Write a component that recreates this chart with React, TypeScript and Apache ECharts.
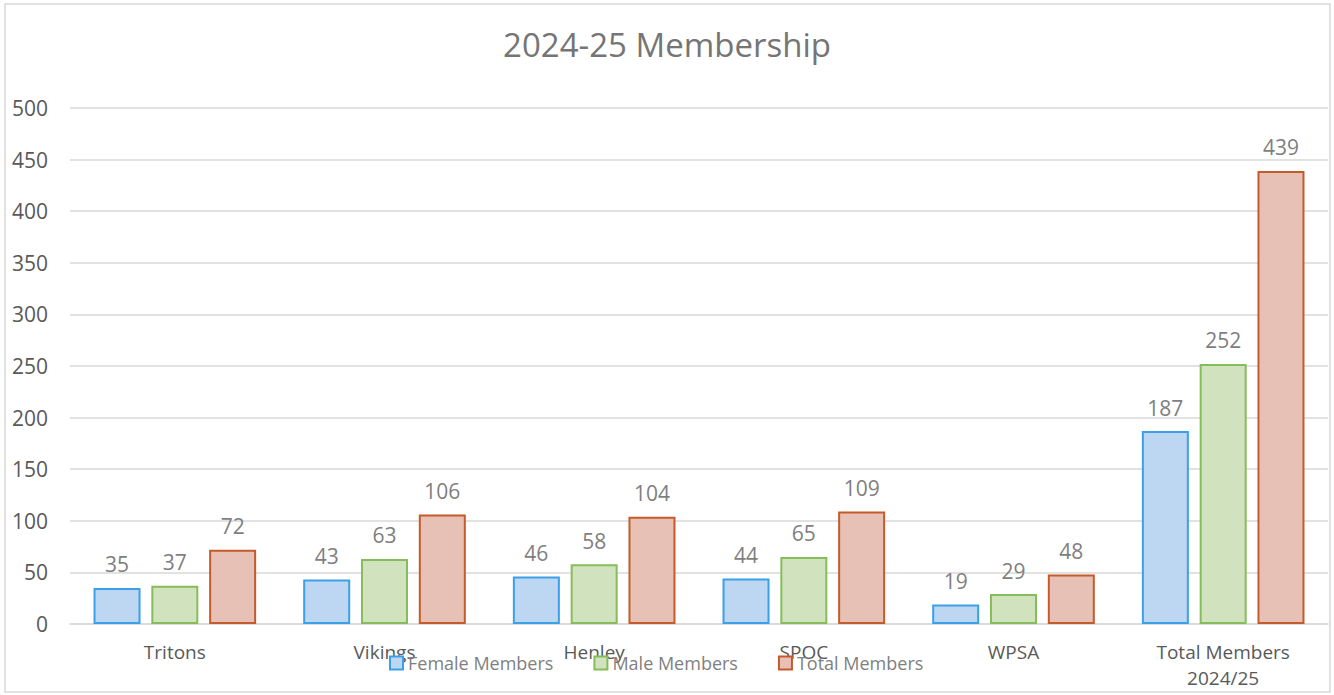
import React, { useEffect, useRef } from "react";
import * as echarts from "echarts";

const categories = ["Tritons", "Vikings", "Henley", "SPOC", "WPSA", "Total Members\n2024/25"];
const femaleMembers = [35, 43, 46, 44, 19, 187];
const maleMembers = [37, 63, 58, 65, 29, 252];
const totalMembers = [72, 106, 104, 109, 48, 439];
const seriesNames = ["Female Members", "Male Members", "Total Members"];

const FONT = "'Open Sans', 'Noto Sans', sans-serif";

export default function App() {
  const ref = useRef<HTMLDivElement>(null);
  useEffect(() => {
    if (!ref.current) return;
    const chart = echarts.init(ref.current, null, { renderer: "svg" });
    const label = {
      show: true,
      position: "top" as const,
      distance: 13,
      color: "#7F7F7F",
      fontSize: 21,
      fontFamily: FONT,
    };
    const mk = (name: string, data: number[], fill: string, stroke: string) => ({
      name,
      type: "bar" as const,
      data,
      barWidth: 47,
      barGap: "23%",
      itemStyle: { color: fill, borderColor: stroke, borderWidth: 2 },
      label,
    });
    chart.setOption({
      animation: false,
      backgroundColor: "#FFFFFF",
      title: {
        text: "2024-25 Membership",
        left: "center",
        top: 23,
        textStyle: { color: "#757575", fontSize: 33, fontWeight: "normal", fontFamily: FONT },
      },
      grid: { left: 70, right: 6, top: 108, bottom: 71, containLabel: false },
      legend: {
        left: 384,
        top: 649,
        icon: "rect",
        itemWidth: 13,
        itemHeight: 13,
        itemGap: 40,
        data: seriesNames,
        textStyle: { color: "#7F7F7F", fontSize: 18, fontFamily: FONT },
      },
      xAxis: {
        type: "category",
        data: categories,
        axisLine: { lineStyle: { color: "#D9D9D9", width: 1.5 } },
        axisTick: { show: false },
        axisLabel: {
          color: "#595959",
          fontSize: 19,
          fontFamily: FONT,
          margin: 15,
          lineHeight: 26,
          interval: 0,
        },
      },
      yAxis: {
        type: "value",
        min: 0,
        max: 500,
        interval: 50,
        axisLine: { show: false },
        axisTick: { show: false },
        splitLine: { lineStyle: { color: "#D9D9D9", width: 1.5 } },
        axisLabel: { color: "#595959", fontSize: 21, fontFamily: FONT, margin: 22 },
      },
      graphic: [
        {
          type: "rect",
          shape: { x: 5, y: 4, width: 1325, height: 688 },
          style: { fill: "none", stroke: "#D9D9D9", lineWidth: 1.5 },
          silent: true,
        },
      ],
      series: [
        mk(seriesNames[0], femaleMembers, "#BDD7F3", "#3AA0E8"),
        mk(seriesNames[1], maleMembers, "#D0E3BE", "#86BC5A"),
        mk(seriesNames[2], totalMembers, "#E7C1B5", "#C55A2A"),
      ],
    });
    return () => chart.dispose();
  }, []);
  return (
    <div
      ref={ref}
      style={{ position: "fixed", left: 0, top: 0, width: 1334, height: 695 }}
    />
  );
}
